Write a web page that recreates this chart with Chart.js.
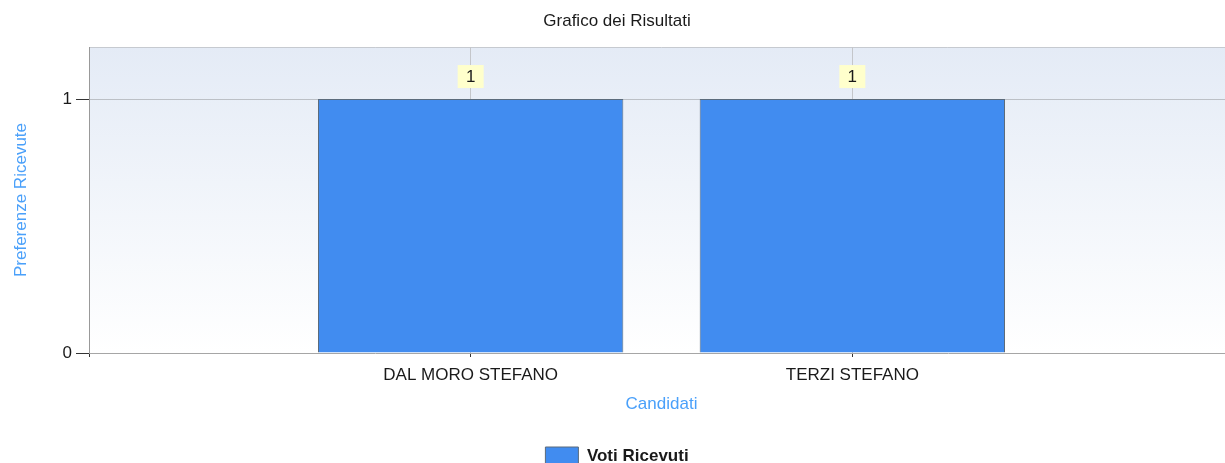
<!DOCTYPE html>
<html>
<head>
<meta charset="utf-8">
<title>Grafico dei Risultati</title>
<script src="https://cdn.jsdelivr.net/npm/chart.js@4/dist/chart.umd.min.js"></script>
<style>
    html, body { margin: 0; padding: 0; background: #ffffff; overflow: hidden; }
    #wrap { width: 1234px; height: 476px; }
</style>
</head>
<body>
<div id="wrap"><canvas id="grafico" width="1234" height="476"></canvas></div>
<script>
// DATI DEL GRAFICO
const candidati = ['DAL MORO STEFANO', 'TERZI STEFANO'];
const votiRicevuti = [1, 1];
const tickAsseY = [0, 1];

const FONT = "'Liberation Sans', Arial, sans-serif";
const BLU_TITOLI = '#4aa0fa';

// SFONDO SFUMATO E BORDO SUPERIORE DELL'AREA DEL GRAFICO
const sfondoArea = {
    id: 'sfondoArea',
    beforeDraw(chart) {
        const { ctx, chartArea: a } = chart;
        const grad = ctx.createLinearGradient(0, a.top, 0, a.bottom);
        grad.addColorStop(0, '#e4ebf6');
        grad.addColorStop(1, '#ffffff');
        ctx.save();
        ctx.fillStyle = grad;
        ctx.fillRect(a.left, a.top, a.right - a.left, a.bottom - a.top);
        ctx.strokeStyle = '#c6cad0';
        ctx.lineWidth = 1;
        ctx.beginPath();
        ctx.moveTo(a.left, a.top + 0.5);
        ctx.lineTo(a.right, a.top + 0.5);
        ctx.stroke();
        ctx.restore();
    }
};

// ETICHETTE DEI VALORI SOPRA LE BARRE (RIQUADRO GIALLO)
const etichetteValori = {
    id: 'etichetteValori',
    afterDatasetsDraw(chart) {
        const { ctx } = chart;
        const meta = chart.getDatasetMeta(0);
        ctx.save();
        ctx.font = '17px ' + FONT;
        ctx.textAlign = 'center';
        ctx.textBaseline = 'middle';
        meta.data.forEach((bar, i) => {
            const testo = String(votiRicevuti[i]);
            const w = 26, h = 23;
            const top = bar.y - 11 - h;
            ctx.fillStyle = '#ffffcc';
            ctx.fillRect(bar.x - w / 2, top, w, h);
            ctx.fillStyle = '#1a1a1a';
            ctx.fillText(testo, bar.x, top + h / 2 + 1);
        });
        ctx.restore();
    }
};

const ctx = document.getElementById('grafico').getContext('2d');
const grafico = new Chart(ctx, {
    type: 'bar',
    data: {
        datasets: [{
            label: 'Voti Ricevuti',
            data: votiRicevuti.map((v, i) => ({ x: i + 1, y: v })),
            backgroundColor: '#418cf0',
            borderColor: '#5b6b7c',
            borderWidth: 1,
            categoryPercentage: 0.8,
            barPercentage: 1,
        }],
    },
    options: {
        responsive: false,
        animation: false,
        layout: { padding: 0 },
        scales: {
            x: {
                type: 'linear',
                min: 0,
                max: candidati.length + 1,
                offset: false,
                afterFit(scale) {
                    scale.height = 88;
                    scale.paddingLeft = 0;
                    scale.paddingRight = 0;
                },
                ticks: {
                    stepSize: 1,
                    autoSkip: false,
                    maxRotation: 0,
                    padding: 8,
                    color: '#1a1a1a',
                    font: { family: FONT, size: 17 },
                    callback: (value) => candidati[value - 1] || '',
                },
                grid: {
                    offset: false,
                    color: '#c4c6ca',
                    tickColor: '#333333',
                    tickLength: 4,
                },
                border: { color: '#a6a6a6', width: 1 },
                title: {
                    display: true,
                    text: 'Candidati',
                    color: BLU_TITOLI,
                    font: { family: FONT, size: 17 },
                    padding: { top: 0, bottom: 26 },
                },
            },
            y: {
                min: 0,
                max: 1.205,
                afterFit(scale) { scale.width = 89; },
                afterBuildTicks(scale) {
                    scale.ticks = tickAsseY.map(v => ({ value: v }));
                },
                ticks: {
                    padding: 4,
                    color: '#1a1a1a',
                    font: { family: FONT, size: 17 },
                },
                grid: {
                    color: (c) => (c.tick && c.tick.value === 0) ? 'rgba(0,0,0,0)' : '#bcc0c6',
                    tickColor: '#333333',
                    tickLength: 13,
                },
                border: { color: '#999999', width: 1 },
                title: {
                    display: true,
                    text: 'Preferenze Ricevute',
                    color: BLU_TITOLI,
                    font: { family: FONT, size: 17 },
                    padding: { top: 11, bottom: 0 },
                },
            },
        },
        plugins: {
            title: {
                display: true,
                text: 'Grafico dei Risultati',
                color: '#1a1a1a',
                font: { family: FONT, size: 17, weight: 'normal' },
                padding: { top: 11, bottom: 15.6 },
            },
            legend: {
                display: true,
                position: 'bottom',
                labels: {
                    boxWidth: 33,
                    boxHeight: 19,
                    padding: 6,
                    color: '#1a1a1a',
                    font: { family: FONT, size: 17, weight: 'bold' },
                },
            },
            tooltip: { enabled: false },
        },
    },
    plugins: [sfondoArea, etichetteValori],
});
</script>
</body>
</html>
